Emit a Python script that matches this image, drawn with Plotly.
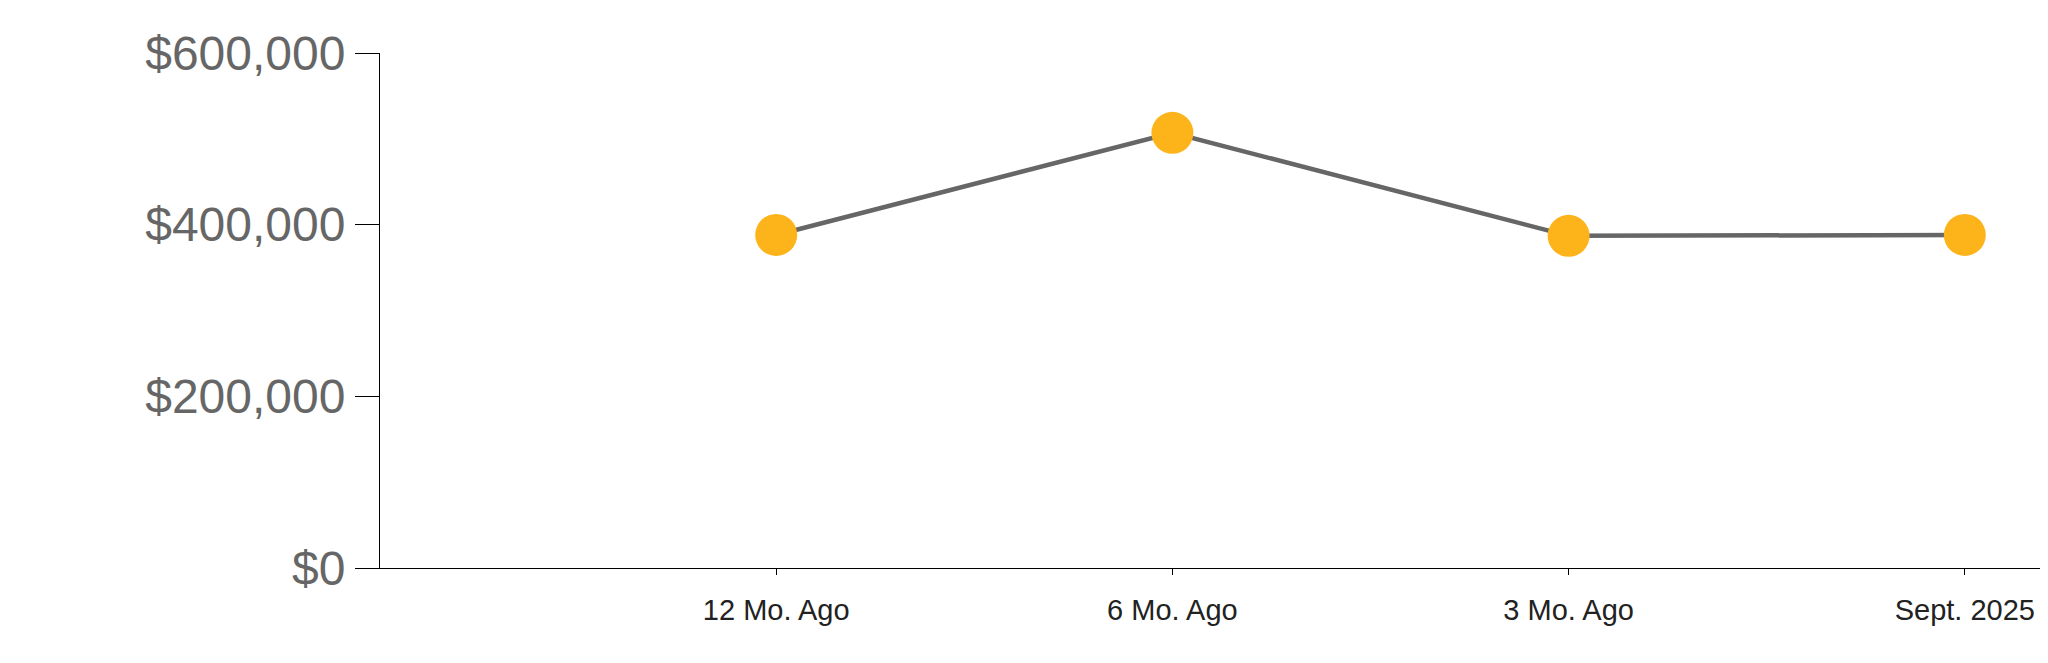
import plotly.graph_objects as go

categories = ["12 Mo. Ago", "6 Mo. Ago", "3 Mo. Ago", "Sept. 2025"]
values = [388000, 507000, 387000, 388000]
y_ticks = [0, 200000, 400000, 600000]
y_tick_labels = ["$0", "$200,000", "$400,000", "$600,000"]

x_pos = list(range(len(categories)))

fig = go.Figure()
fig.add_trace(go.Scatter(
    x=x_pos, y=values, mode="lines+markers",
    line=dict(color="#666666", width=4.5),
    marker=dict(color="#FDB41B", size=42, line=dict(width=0)),
    hoverinfo="skip", showlegend=False, cliponaxis=False,
))

# page body has an 8px margin; compensate so the plot sits where the reference does
fig.update_layout(
    width=2040, height=655,
    margin=dict(l=372, r=0, t=45, b=95),
    paper_bgcolor="white", plot_bgcolor="white",
    font=dict(family="Arial, Liberation Sans, sans-serif"),
)
fig.update_xaxes(
    range=[-1.0, 3.21], tickmode="array", tickvals=x_pos, ticktext=categories,
    showgrid=False, zeroline=False, showline=True, linecolor="black", linewidth=1,
    ticks="outside", ticklen=6, tickcolor="black", ticklabelstandoff=10,
    tickfont=dict(size=29, color="#222222"),
)
fig.update_yaxes(
    range=[0, 600000], tickmode="array", tickvals=y_ticks, ticktext=y_tick_labels,
    showgrid=False, zeroline=False, showline=True, linecolor="black", linewidth=1,
    ticks="outside", ticklen=24, tickcolor="black",
    tickfont=dict(size=48, color="#666666"),
)

fig.write_html("out.html")
